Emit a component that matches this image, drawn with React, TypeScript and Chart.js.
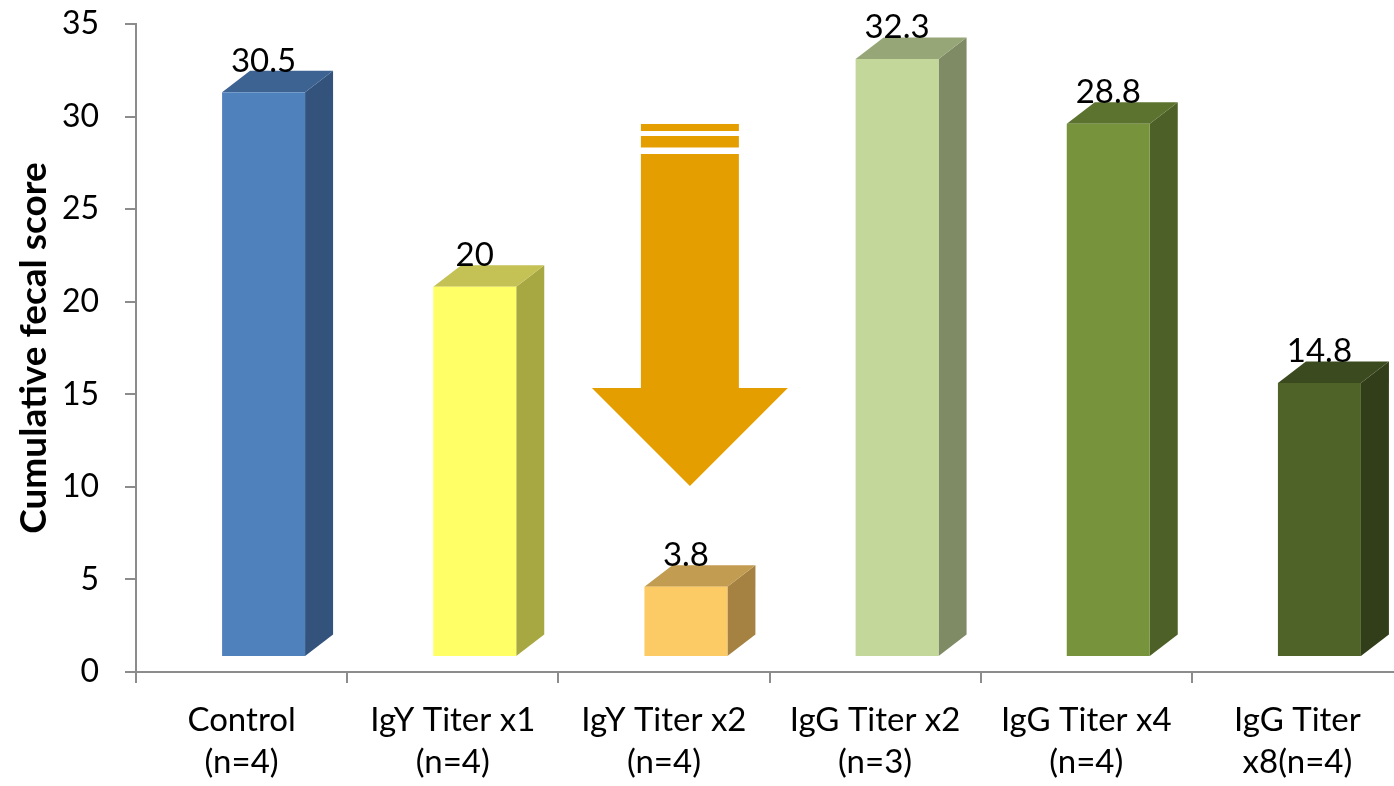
import React, { useEffect, useRef } from "react";
import { Chart, registerables } from "chart.js";

Chart.register(...registerables);

// Groups on the x axis (two-line labels)
const categories: string[][] = [
  ["Control", "(n=4)"],
  ["IgY Titer x1", "(n=4)"],
  ["IgY Titer x2", "(n=4)"],
  ["IgG Titer x2", "(n=3)"],
  ["IgG Titer x4", "(n=4)"],
  ["IgG Titer", "x8(n=4)"],
];

// Cumulative fecal score per group
const scores: number[] = [30.5, 20, 3.8, 32.3, 28.8, 14.8];
const scoreLabels: string[] = ["30.5", "20", "3.8", "32.3", "28.8", "14.8"];

// Y axis ticks
const yTicks: number[] = [0, 5, 10, 15, 20, 25, 30, 35];

// Face colours for each bar: front, top, side
const frontColors = ["#4F81BD", "#FFFF66", "#FCCB66", "#C4D79B", "#77933C", "#4F6228"];
const topColors = ["#3D6393", "#C4C254", "#C29C51", "#96A677", "#5C722F", "#3C4B1F"];
const sideColors = ["#33537C", "#A8A843", "#A58142", "#7E8B64", "#4D6027", "#323E19"];

// Down arrow over the IgY Titer x2 group, in data units
const ARROW_CATEGORY = 2.123;
const ARROW_SHAFT_HALF = 0.232;
const ARROW_HEAD_HALF = 0.464;
const ARROW_STRIPES: [number, number][] = [
  [29.6, 29.22],
  [28.95, 28.33],
];
const ARROW_SHAFT_TOP = 27.98;
const ARROW_HEAD_BASE = 15.34;
const ARROW_TIP = 10.05;
const ARROW_COLOR = "#E59E00";

// 3D projection of the bars (pixels)
const FRONT_SHIFT_X = 22;
const FRONT_SHIFT_Y = -15;
const DEPTH_X = 28;
const DEPTH_Y = -21.5;

const FONT = "Lato, 'Open Sans', sans-serif";
const AXIS_GREY = "#8C8C8C";

const bars3d = {
  id: "bars3d",
  afterDatasetsDraw(chart: any) {
    const ctx = chart.ctx as CanvasRenderingContext2D;
    const meta = chart.getDatasetMeta(0);
    const xs = chart.scales.x;
    const ys = chart.scales.y;

    // arrow
    const p0 = xs.getPixelForValue(0);
    const catW = xs.getPixelForValue(1) - p0;
    const cx = p0 + ARROW_CATEGORY * catW;
    const sh = ARROW_SHAFT_HALF * catW;
    const hh = ARROW_HEAD_HALF * catW;
    ctx.save();
    ctx.fillStyle = ARROW_COLOR;
    for (const [a, b] of ARROW_STRIPES) {
      const ya = ys.getPixelForValue(a);
      const yb = ys.getPixelForValue(b);
      ctx.fillRect(cx - sh, ya, sh * 2, yb - ya);
    }
    const yTop = ys.getPixelForValue(ARROW_SHAFT_TOP);
    const yBase = ys.getPixelForValue(ARROW_HEAD_BASE);
    const yTip = ys.getPixelForValue(ARROW_TIP);
    ctx.beginPath();
    ctx.moveTo(cx - sh, yTop);
    ctx.lineTo(cx + sh, yTop);
    ctx.lineTo(cx + sh, yBase);
    ctx.lineTo(cx + hh, yBase);
    ctx.lineTo(cx, yTip);
    ctx.lineTo(cx - hh, yBase);
    ctx.lineTo(cx - sh, yBase);
    ctx.closePath();
    ctx.fill();
    ctx.restore();

    // bars
    meta.data.forEach((el: any, i: number) => {
      const { x, y, base, width } = el.getProps(["x", "y", "base", "width"], true);
      const l = x - width / 2 + FRONT_SHIFT_X;
      const r = x + width / 2 + FRONT_SHIFT_X;
      const t = y + FRONT_SHIFT_Y;
      const b = base + FRONT_SHIFT_Y;
      ctx.save();
      // side
      ctx.fillStyle = sideColors[i];
      ctx.beginPath();
      ctx.moveTo(r, t);
      ctx.lineTo(r + DEPTH_X, t + DEPTH_Y);
      ctx.lineTo(r + DEPTH_X, b + DEPTH_Y);
      ctx.lineTo(r, b);
      ctx.closePath();
      ctx.fill();
      // top
      ctx.fillStyle = topColors[i];
      ctx.beginPath();
      ctx.moveTo(l, t);
      ctx.lineTo(l + DEPTH_X, t + DEPTH_Y);
      ctx.lineTo(r + DEPTH_X, t + DEPTH_Y);
      ctx.lineTo(r, t);
      ctx.closePath();
      ctx.fill();
      // front
      ctx.fillStyle = frontColors[i];
      ctx.fillRect(l, t, r - l, b - t);
      // value label
      ctx.fillStyle = "#000000";
      ctx.font = `33px ${FONT}`;
      ctx.textAlign = "center";
      ctx.textBaseline = "alphabetic";
      ctx.fillText(scoreLabels[i], (l + r) / 2, t + DEPTH_Y + 1);
      ctx.restore();
    });
  },
};

export default function App() {
  const canvasRef = useRef<HTMLCanvasElement | null>(null);

  useEffect(() => {
    let chart: Chart | null = null;
    let cancelled = false;
    const make = () => {
      if (cancelled || !canvasRef.current) return;
      chart = new Chart(canvasRef.current, {
        type: "bar",
        data: {
          labels: categories,
          datasets: [
            {
              data: scores,
              backgroundColor: "rgba(0,0,0,0)",
              borderWidth: 0,
              categoryPercentage: 1,
              barPercentage: 0.393,
            },
          ],
        },
        options: {
          responsive: false,
          animation: false,
          layout: { padding: { top: 24, right: 7, bottom: 0, left: 0 } },
          plugins: {
            legend: { display: false },
            tooltip: { enabled: false },
          },
          scales: {
            x: {
              offset: true,
              border: { display: true, color: AXIS_GREY, width: 2 },
              grid: {
                offset: true,
                drawOnChartArea: false,
                drawTicks: true,
                tickLength: 11,
                color: AXIS_GREY,
                lineWidth: 2,
              },
              ticks: {
                color: "#000000",
                padding: 17,
                maxRotation: 0,
                autoSkip: false,
                font: { family: FONT, size: 33, lineHeight: 1.25 },
              },
              afterFit(scale: any) {
                scale.height = 114;
                scale.paddingLeft = 0;
                scale.paddingRight = 0;
              },
            },
            y: {
              min: 0,
              max: 35,
              afterBuildTicks(scale: any) {
                scale.ticks = yTicks.map((v) => ({ value: v }));
              },
              border: { display: true, color: AXIS_GREY, width: 2 },
              grid: {
                drawOnChartArea: false,
                drawTicks: true,
                tickLength: 11,
                color: AXIS_GREY,
                lineWidth: 2,
              },
              ticks: {
                color: "#000000",
                padding: 26,
                font: { family: FONT, size: 32 },
              },
              title: {
                display: true,
                text: "Cumulative fecal score",
                color: "#000000",
                padding: { top: 12, bottom: 0 },
                font: { family: FONT, size: 37, weight: "bold", lineHeight: 1.2 },
              },
              afterFit(scale: any) {
                scale.width = 136;
                scale.paddingTop = 0;
                scale.paddingBottom = 0;
              },
            },
          },
        },
        plugins: [bars3d],
      });
    };
    const fontsReady = (document as any).fonts
      ? Promise.all([
          (document as any).fonts.load(`32px Lato`),
          (document as any).fonts.load(`bold 37px Lato`),
        ]).catch(() => null)
      : Promise.resolve(null);
    fontsReady.then(make);
    return () => {
      cancelled = true;
      if (chart) chart.destroy();
    };
  }, []);

  return (
    <div
      style={{
        position: "fixed",
        left: 0,
        top: 0,
        width: 1394,
        height: 786,
        overflow: "hidden",
        background: "#ffffff",
      }}
    >
      <canvas ref={canvasRef} width={1410} height={786} style={{ display: "block" }} />
    </div>
  );
}
